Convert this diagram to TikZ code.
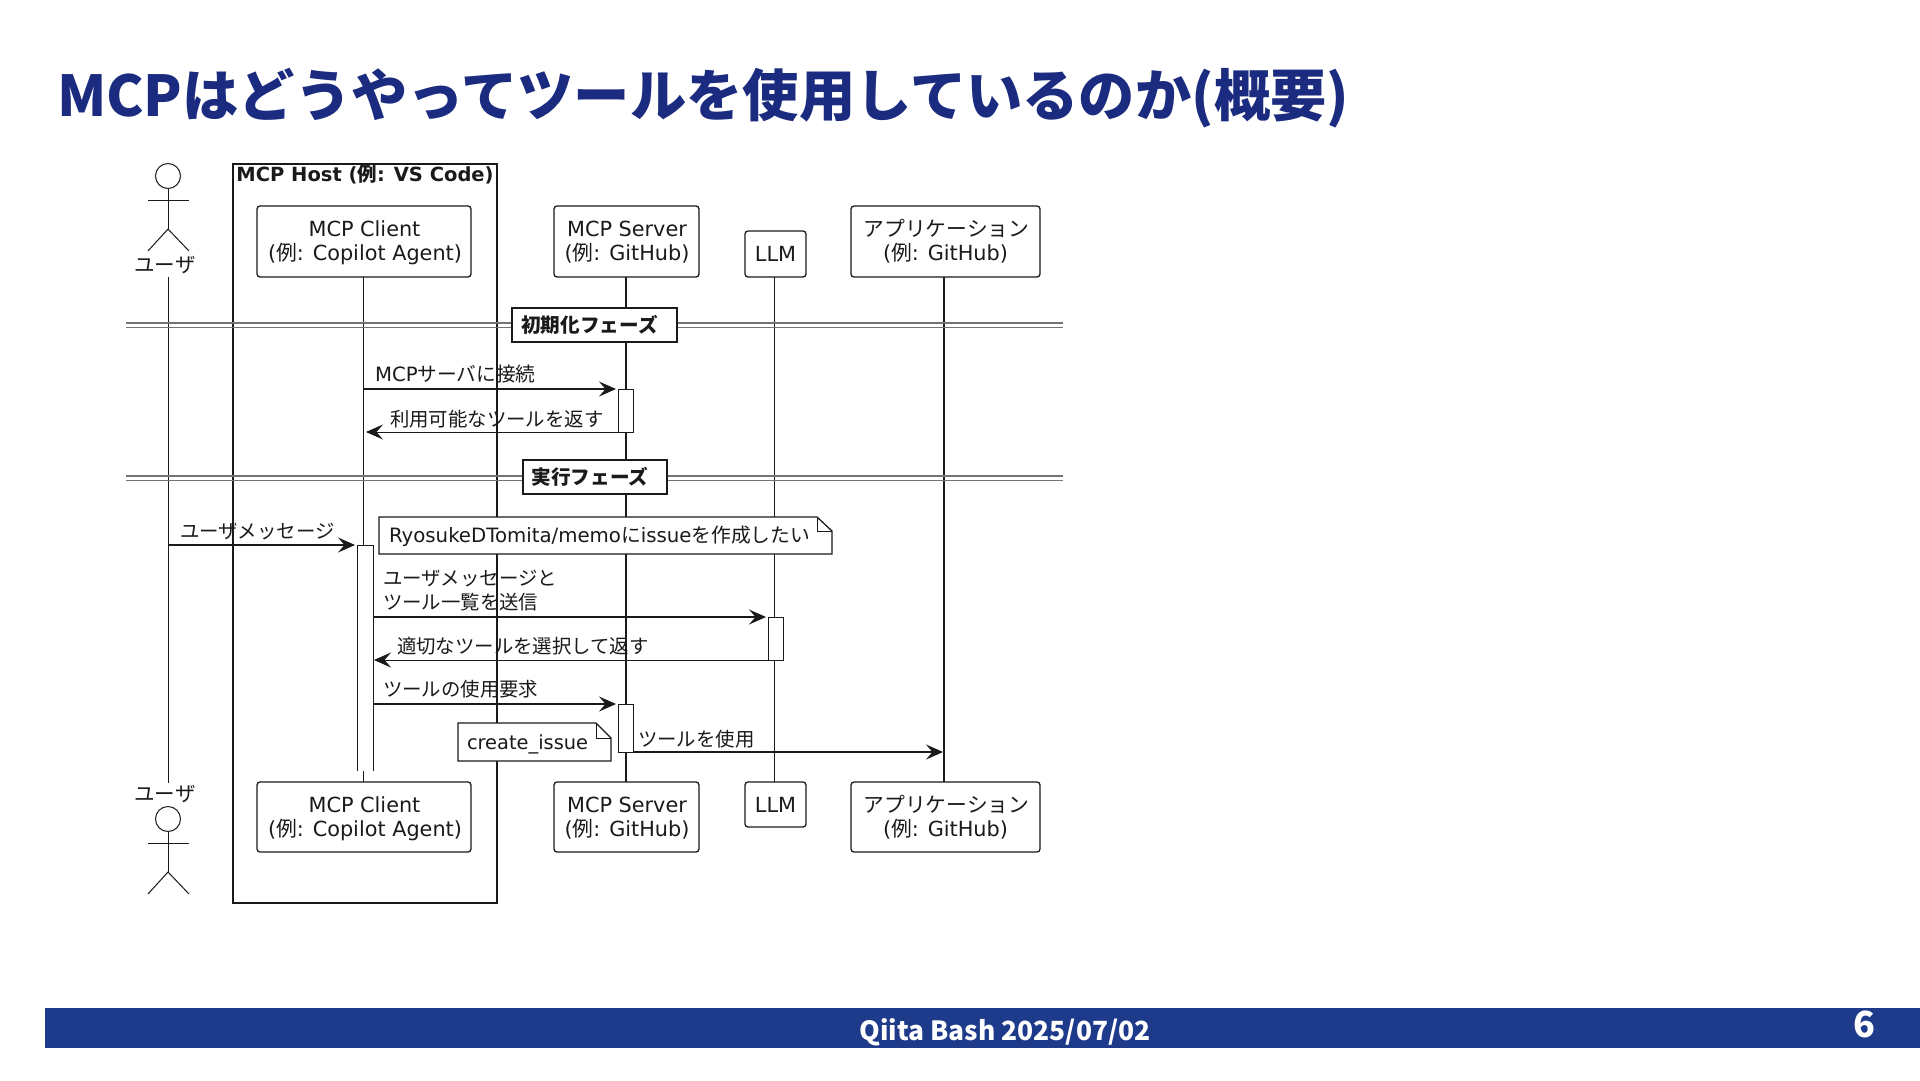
\documentclass[tikz,border=0pt]{standalone}
\usepackage{fontspec}
\usetikzlibrary{arrows.meta}
\setmainfont{DejaVu Sans}
\newfontfamily\cjk{Noto Sans CJK JP}
\newcommand{\J}[1]{{\cjk #1}}
\newcommand{\tl}[2]{\raisebox{-#1}[15pt][5pt]{#2}}
\definecolor{navy}{HTML}{1E3A8A}
\definecolor{titleblue}{HTML}{1B2B80}
\definecolor{ink}{HTML}{1A1A1A}
\newcommand{\bx}[7][]{%
  \pgfmathsetmacro\cxx{(#3+#5)/2}\pgfmathsetmacro\cyy{(#4+#6)/2}%
  \pgfmathsetmacro\wxx{#5-#3}\pgfmathsetmacro\hyy{#6-#4}%
  \node[#1,minimum width=\wxx pt,minimum height=\hyy pt] (#2) at (\cxx,\cyy) {#7};}
\tikzset{
  x=1pt,y=-1pt,
  every node/.style={inner sep=0pt,outer sep=0pt,text=ink,font=\fontsize{19.4}{24}\selectfont},
  part/.style={draw=ink,line width=1.3pt,fill=white,rounded corners=3pt,align=center,font=\fontsize{20.8}{24}\selectfont},
  act/.style={draw=ink,line width=0.8pt,fill=white},
  phase/.style={draw=ink,line width=1.4pt,fill=white,font=\fontsize{19.6}{24}\selectfont\bfseries},
  lblnode/.style={anchor=west,align=left},
  life/.style={draw=ink,line width=1pt},
  lifeb/.style={draw=ink,line width=1.5pt},
  msg/.style={draw=ink,line width=1.4pt,-{Stealth[length=17pt,width=15pt,inset=6.5pt]}},
  ret/.style={draw=ink,line width=0.9pt,-{Stealth[length=17pt,width=15pt,inset=6.5pt]}},
  divthick/.style={draw=black!55,line width=2pt},
  divthin/.style={draw=black!55,line width=1pt},
  notefill/.style={draw=ink,line width=1.3pt,fill=white},
  actor/.style={draw=ink,line width=1pt},
}
\begin{document}
\begin{tikzpicture}
\useasboundingbox[fill=white] (0,0) rectangle (1920,1080);

% title and footer
\node[anchor=west,text=titleblue,font=\cjk\bfseries\fontsize{56.3}{64}\selectfont] (title) at (57,98.5) {MCPはどうやってツールを使用しているのか(概要)};
\bx[fill=navy]{bar}{45}{1008}{1920}{1048}{}
\node[text=white,font=\cjk\bfseries\fontsize{26.4}{32}\selectfont] (foot) at (1005,1032) {Qiita Bash 2025/07/02};
\node[text=white,font=\cjk\bfseries\fontsize{36}{40}\selectfont] (pageno) at (1864,1024) {6};

% lifeline positions
\coordinate (ul) at (168,0);
\coordinate (cl) at (363,0);
\coordinate (sl) at (626,0);
\coordinate (ll) at (774,0);
\coordinate (al) at (944,0);
\coordinate (uT) at (168,277);
\coordinate (uB) at (168,783);

% host
\bx[draw=ink,line width=1.5pt]{host}{233}{164}{497}{903}{}
\node[font=\fontsize{19.5}{24}\selectfont\bfseries] (hostlabel) at (365,174) {MCP Host (\J{例}: VS Code)};

% participants
\bx[part]{cT}{257}{206}{471}{277}{\tl{2pt}{\hspace{1pt}MCP Client}\\\tl{2pt}{\hspace{2pt}(\J{例}: Copilot Agent)}}
\bx[part]{sT}{554}{206}{699}{277}{\tl{2pt}{\hspace{1pt}MCP Server}\\\tl{2pt}{\hspace{1pt}(\J{例}: GitHub)}}
\bx[part]{lT}{745}{231}{806}{277}{LLM}
\bx[part]{aT}{851}{206}{1040}{277}{\tl{2pt}{\hspace{2pt}\J{アプリケーション}}\\\tl{2pt}{(\J{例}: GitHub)}}
\bx[part]{cB}{257}{782}{471}{852}{\tl{2.6pt}{\hspace{1pt}MCP Client}\\\tl{2.6pt}{\hspace{2pt}(\J{例}: Copilot Agent)}}
\bx[part]{sB}{554}{782}{699}{852}{\tl{2.6pt}{\hspace{1pt}MCP Server}\\\tl{2.6pt}{\hspace{1pt}(\J{例}: GitHub)}}
\bx[part]{lB}{745}{782}{806}{827}{\raisebox{-1pt}{LLM}}
\bx[part]{aB}{851}{782}{1040}{852}{\tl{2.6pt}{\hspace{2pt}\J{アプリケーション}}\\\tl{2.6pt}{(\J{例}: GitHub)}}

% lifelines
\draw[life] (uT) -- (uB);
\draw[life] (cl |- cT.south) -- (cl |- cB.north);
\draw[lifeb] (sl |- sT.south) -- (sl |- sB.north);
\draw[life] (ll |- lT.south) -- (ll |- lB.north);
\draw[lifeb] (al |- aT.south) -- (al |- aB.north);

% actors
\node[font=\fontsize{20.5}{24}\selectfont] (uTl) at (165,265) {\J{ユーザ}};
\node[draw=ink,line width=1pt,circle,minimum size=25pt] (hT) at (168,176) {};
\coordinate (hipT) at (168,229);
\draw[actor] (hT.south) -- (hipT);
\draw[actor] (148,200) -- (189,200);
\draw[actor] (148,251) -- (hipT) -- (189,251);
\node[font=\fontsize{20.5}{24}\selectfont] (uBl) at (165,794) {\J{ユーザ}};
\node[draw=ink,line width=1pt,circle,minimum size=25pt] (hB) at (168,819) {};
\coordinate (hipB) at (168,872);
\draw[actor] (hB.south) -- (hipB);
\draw[actor] (148,843) -- (189,843);
\draw[actor] (148,894) -- (hipB) -- (189,894);

% phase dividers
\coordinate (d1L) at (126,323); \coordinate (d1R) at (1063,323);
\coordinate (d1l) at (126,327); \coordinate (d1r) at (1063,327);
\coordinate (d2L) at (126,476); \coordinate (d2R) at (1063,476);
\coordinate (d2l) at (126,480); \coordinate (d2r) at (1063,480);
\draw[divthick] (d1L) -- (d1R); \draw[divthin] (d1l) -- (d1r);
\draw[divthick] (d2L) -- (d2R); \draw[divthin] (d2l) -- (d2r);
\bx[phase]{ph1}{512}{308}{677}{342}{\J{初期化フェーズ}\rule{10pt}{0pt}}
\bx[phase]{ph2}{523}{460}{667}{494}{\J{実行フェーズ}\rule{10pt}{0pt}}

% notes
\draw[notefill] (379,517) -- (817,517) -- (832,531) -- (832,554) -- (379,554) -- cycle;
\draw[line width=1pt,draw=ink] (817,517) -- (817,531) -- (832,531);
\node[lblnode,font=\fontsize{19.75}{24}\selectfont] (n1) at (389,536) {RyosukeDTomita/memo\J{に}issue\J{を作成したい}};
\draw[notefill] (458,723) -- (596,723) -- (611,738) -- (611,761) -- (458,761) -- cycle;
\draw[line width=1pt,draw=ink] (596,723) -- (596,738) -- (611,738);
\node[lblnode] (n2) at (467,744) {create\_issue};

% activations
\bx[act]{a1}{618}{389}{633}{432}{}
\bx[act]{a3}{768}{617}{783}{660}{}
\bx[act]{a4}{618}{704}{633}{752}{}
\bx[fill=white]{a2}{357}{545}{373}{771}{}
\draw[draw=ink,line width=0.8pt] (a2.south west) -- (a2.north west) -- (a2.north east) -- (a2.south east);

% messages
\draw[msg,shorten >=2pt] (cl |- a1.north) -- (a1.north west);
\draw[ret,shorten >=3pt] (a1.south west) -- (cl |- a1.south);
\draw[msg,shorten >=2pt] (ul |- a2.north) -- (a2.north west);
\draw[msg,shorten >=2pt] (a2.east |- a3.north) -- (a3.north west);
\draw[ret,shorten >=1pt] (a3.south west) -- (a2.east |- a3.south);
\draw[msg,shorten >=2pt] (a2.east |- a4.north) -- (a4.north west);
\draw[msg,shorten >=1pt] (a4.south east) -- (al |- a4.south);

% message labels
\node[lblnode,font=\fontsize{19.7}{24}\selectfont] (t1) at (375,374) {MCP\J{サーバに接続}};
\node[lblnode] (t2) at (390,419) {\J{利用可能なツールを返す}};
\node[lblnode] (t3) at (180,532) {\J{ユーザメッセージ}};
\node[lblnode] (t4) at (383,591) {\J{ユーザメッセージと}\\\J{ツール一覧を送信}};
\node[lblnode] (t5) at (397,646) {\J{適切なツールを選択して返す}};
\node[lblnode] (t6) at (383,689) {\J{ツールの使用要求}};
\node[lblnode] (t7) at (638,739) {\J{ツールを使用}};
\end{tikzpicture}
\end{document}
